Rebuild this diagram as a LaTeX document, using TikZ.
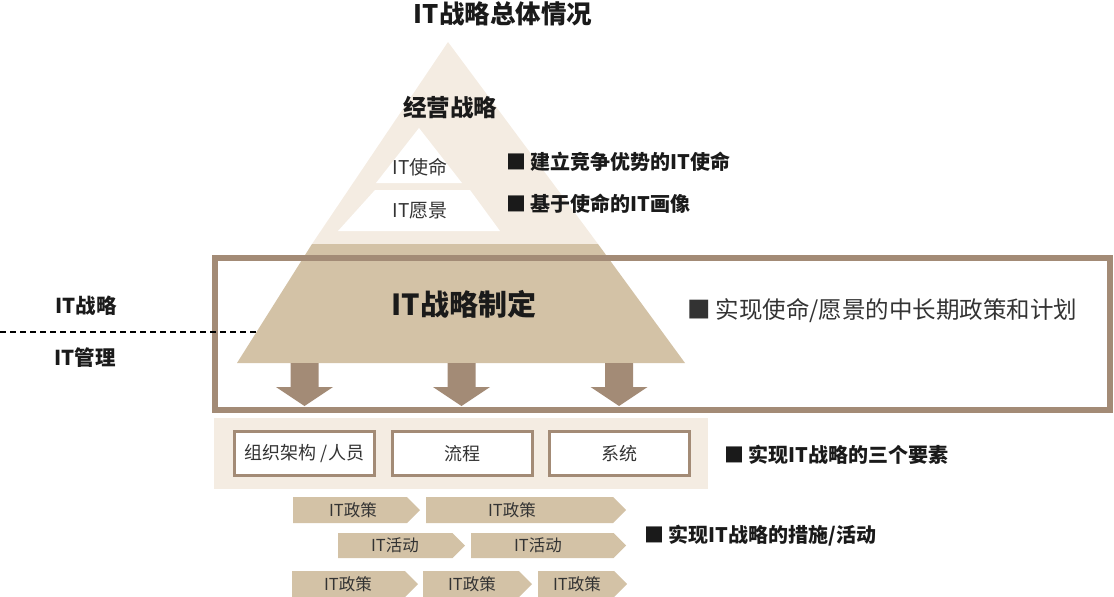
\documentclass[tikz,border=0pt]{standalone}
\usepackage{fontspec}
\setmainfont{Noto Sans CJK SC}
\definecolor{light}{HTML}{F4ECE2}
\definecolor{tanc}{HTML}{D3C2A6}
\definecolor{brn}{HTML}{A38B76}
\definecolor{txt}{HTML}{1A1A1A}
\definecolor{gtxt}{HTML}{333333}
\newcommand{\fs}[1]{\fontsize{#1}{#1}\selectfont}
\begin{document}
\begin{tikzpicture}[x=1pt,y=-1pt,
  lbl/.style={inner sep=0pt,outer sep=0pt,text=txt},
  boldlbl/.style={lbl,font=\bfseries},
  bullet/.style={lbl,anchor=west},
  elem/.style={draw=brn,line width=3pt,fill=white,minimum width=140pt,minimum height=44pt,inner sep=0pt,text=gtxt,font=\fs{18}},
  chevtext/.style={lbl,text=gtxt,font=\fs{16.5}},
  darrow/.style={fill=brn}
]
\useasboundingbox (0,0) rectangle (1114,597);

% pyramid
\coordinate (apex) at (448,42);
\coordinate (ml) at (312,244);
\coordinate (mr) at (598,244);
\coordinate (bl) at (237,363);
\coordinate (br) at (685,363);
\fill[light] (apex) -- (ml) -- (mr) -- cycle;
\fill[white] (419,128) -- (376,183) -- (462,183) -- cycle;
\fill[white] (375,190) -- (470,190) -- (500,231) -- (338,231) -- cycle;
\fill[tanc] (ml) -- (mr) -- (br) -- (bl) -- cycle;

% frame
\node[draw=brn,line width=6pt,minimum width=895.5pt,minimum height=152.5pt,inner sep=0pt,outer sep=0pt] (frame) at (662.25,333.75) {};

% dashed divider
\coordinate (dl) at (0,332);
\coordinate (dr) at (256.5,332);
\draw[dashed,line width=1.1pt,dash pattern=on 6pt off 4pt] (dl) -- (dr);

% arrows
\foreach \cx/\nm in {304.5/a1,461.5/a2,619/a3}{
  \coordinate (\nm) at (\cx,363);
  \fill[darrow] ([xshift=-14pt]\nm) -- ([xshift=14pt]\nm) -- ([xshift=14pt,yshift=-24pt]\nm) -- ([xshift=28.5pt,yshift=-24pt]\nm) -- ([yshift=-43pt]\nm) -- ([xshift=-28.5pt,yshift=-24pt]\nm) -- ([xshift=-14pt,yshift=-24pt]\nm) -- cycle;
}

% elements background and boxes
\node[fill=light,minimum width=494pt,minimum height=71pt,inner sep=0pt,outer sep=0pt] (elbg) at (461,453.5) {};
\node[elem] (e1) at (304.5,453.5) {组织架构 /人员};
\node[elem] (e2) at (462,453.5) {流程};
\node[elem] (e3) at (619.5,453.5) {系统};

% chevrons: left/right/top/bottom/name/text x/label
\foreach \l/\r/\t/\b/\nm/\tx/\lab in {
  293/420/497/523/c1/353/IT政策,
  426/626/497/523/c2/512/IT政策,
  338/465/533/558/c3/395/IT活动,
  471/626/533/558/c4/538/IT活动,
  292/418/571/597/c5/348/IT政策,
  423/532/571/597/c6/472/IT政策,
  538/627/571/597/c7/577/IT政策}{
  \pgfmathsetmacro{\hh}{(\b-\t)/2}
  \pgfmathsetmacro{\mid}{(\b+\t)/2}
  \fill[tanc] (\l,\t) -- (\r-\hh,\t) -- (\r,\mid) -- (\r-\hh,\b) -- (\l,\b) -- cycle;
  \node[chevtext] (\nm) at (\tx,\mid) {\lab};
}

% texts
\node[boldlbl,font=\bfseries\fs{25.5}] (title) at (503,14) {IT战略总体情况};
\node[boldlbl,font=\bfseries\fs{23.5}] (jy) at (450,107) {经营战略};
\node[lbl,text=gtxt,font=\fs{19}] (mis) at (420,167) {IT使命};
\node[lbl,text=gtxt,font=\fs{19}] (vis) at (420,211) {IT愿景};
\node[boldlbl,font=\bfseries\fs{29}] (zd) at (464,304) {IT战略制定};
\node[boldlbl,font=\bfseries\fs{20.5}] (its) at (86,306) {IT战略};
\node[boldlbl,font=\bfseries\fs{20.5}] (itm) at (85,358) {IT管理};

\node[bullet,font=\bfseries\fs{20}] (b1) at (506,162) {■ 建立竞争优势的IT使命};
\node[bullet,font=\bfseries\fs{20}] (b2) at (506,204) {■ 基于使命的IT画像};
\node[bullet,text=gtxt,font=\fs{23.5}] (b3) at (687,311) {■ 实现使命/愿景的中长期政策和计划};
\node[bullet,font=\bfseries\fs{20}] (b4) at (724,455) {■ 实现IT战略的三个要素};
\node[bullet,font=\bfseries\fs{20}] (b5) at (644,536) {■ 实现IT战略的措施/活动};
\end{tikzpicture}
\end{document}
